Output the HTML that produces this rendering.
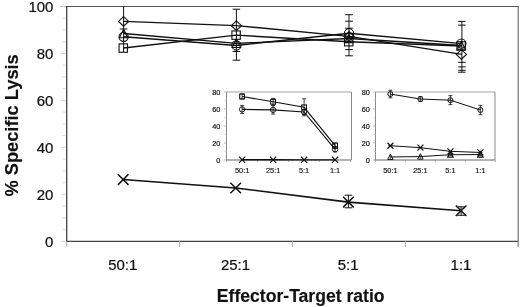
<!DOCTYPE html>
<html><head><meta charset="utf-8"><title>Effector-Target ratio chart</title>
<style>html,body{margin:0;padding:0;background:#fff}svg{display:block}</style></head>
<body>
<svg width="520" height="307" viewBox="0 0 520 307" font-family="'Liberation Sans', sans-serif">
<rect width="520" height="307" fill="#fff"/>
<line x1="60.70" y1="6.50" x2="518.70" y2="6.50" stroke="#555" stroke-width="1.0" />
<line x1="518.20" y1="6.50" x2="518.20" y2="246.80" stroke="#707070" stroke-width="1.2" />
<line x1="66.70" y1="6.20" x2="66.70" y2="241.80" stroke="#444" stroke-width="1.3" />
<line x1="66.20" y1="241.30" x2="518.20" y2="241.30" stroke="#444" stroke-width="1.3" />
<line x1="61.20" y1="241.30" x2="65.70" y2="241.30" stroke="#d4d4d4" stroke-width="1" />
<text transform="translate(53.40,246.70) scale(0.965,1)" font-size="15.5" text-anchor="end" font-weight="normal" fill="#111" stroke="#111" stroke-width="0.25" >0</text>
<line x1="61.20" y1="194.34" x2="65.70" y2="194.34" stroke="#d4d4d4" stroke-width="1" />
<text transform="translate(53.40,199.74) scale(0.965,1)" font-size="15.5" text-anchor="end" font-weight="normal" fill="#111" stroke="#111" stroke-width="0.25" >20</text>
<line x1="61.20" y1="147.38" x2="65.70" y2="147.38" stroke="#d4d4d4" stroke-width="1" />
<text transform="translate(53.40,152.78) scale(0.965,1)" font-size="15.5" text-anchor="end" font-weight="normal" fill="#111" stroke="#111" stroke-width="0.25" >40</text>
<line x1="61.20" y1="100.42" x2="65.70" y2="100.42" stroke="#d4d4d4" stroke-width="1" />
<text transform="translate(53.40,105.82) scale(0.965,1)" font-size="15.5" text-anchor="end" font-weight="normal" fill="#111" stroke="#111" stroke-width="0.25" >60</text>
<line x1="61.20" y1="53.46" x2="65.70" y2="53.46" stroke="#d4d4d4" stroke-width="1" />
<text transform="translate(53.40,58.86) scale(0.965,1)" font-size="15.5" text-anchor="end" font-weight="normal" fill="#111" stroke="#111" stroke-width="0.25" >80</text>
<line x1="61.20" y1="6.50" x2="65.70" y2="6.50" stroke="#d4d4d4" stroke-width="1" />
<text transform="translate(53.40,11.90) scale(0.965,1)" font-size="15.5" text-anchor="end" font-weight="normal" fill="#111" stroke="#111" stroke-width="0.25" >100</text>
<line x1="62.20" y1="229.56" x2="65.70" y2="229.56" stroke="#dedede" stroke-width="1" />
<line x1="62.20" y1="206.08" x2="65.70" y2="206.08" stroke="#dedede" stroke-width="1" />
<line x1="62.20" y1="182.60" x2="65.70" y2="182.60" stroke="#dedede" stroke-width="1" />
<line x1="62.20" y1="159.12" x2="65.70" y2="159.12" stroke="#dedede" stroke-width="1" />
<line x1="62.20" y1="135.64" x2="65.70" y2="135.64" stroke="#dedede" stroke-width="1" />
<line x1="62.20" y1="112.16" x2="65.70" y2="112.16" stroke="#dedede" stroke-width="1" />
<line x1="62.20" y1="88.68" x2="65.70" y2="88.68" stroke="#dedede" stroke-width="1" />
<line x1="62.20" y1="65.20" x2="65.70" y2="65.20" stroke="#dedede" stroke-width="1" />
<line x1="62.20" y1="41.72" x2="65.70" y2="41.72" stroke="#dedede" stroke-width="1" />
<line x1="62.20" y1="18.24" x2="65.70" y2="18.24" stroke="#dedede" stroke-width="1" />
<line x1="62.20" y1="217.82" x2="65.70" y2="217.82" stroke="#dedede" stroke-width="1" />
<line x1="62.20" y1="170.86" x2="65.70" y2="170.86" stroke="#dedede" stroke-width="1" />
<line x1="62.20" y1="123.90" x2="65.70" y2="123.90" stroke="#dedede" stroke-width="1" />
<line x1="62.20" y1="76.94" x2="65.70" y2="76.94" stroke="#dedede" stroke-width="1" />
<line x1="62.20" y1="29.98" x2="65.70" y2="29.98" stroke="#dedede" stroke-width="1" />
<line x1="66.70" y1="241.30" x2="66.70" y2="246.80" stroke="#aaa" stroke-width="1" />
<line x1="179.58" y1="241.30" x2="179.58" y2="246.80" stroke="#aaa" stroke-width="1" />
<line x1="292.45" y1="241.30" x2="292.45" y2="246.80" stroke="#aaa" stroke-width="1" />
<line x1="405.33" y1="241.30" x2="405.33" y2="246.80" stroke="#aaa" stroke-width="1" />
<line x1="518.20" y1="241.30" x2="518.20" y2="246.80" stroke="#aaa" stroke-width="1" />
<text transform="translate(122.70,269.50) scale(0.965,1)" font-size="15.5" text-anchor="middle" font-weight="normal" fill="#111" stroke="#111" stroke-width="0.25" >50:1</text>
<text transform="translate(235.50,269.50) scale(0.965,1)" font-size="15.5" text-anchor="middle" font-weight="normal" fill="#111" stroke="#111" stroke-width="0.25" >25:1</text>
<text transform="translate(348.10,269.50) scale(0.965,1)" font-size="15.5" text-anchor="middle" font-weight="normal" fill="#111" stroke="#111" stroke-width="0.25" >5:1</text>
<text transform="translate(461.00,269.50) scale(0.965,1)" font-size="15.5" text-anchor="middle" font-weight="normal" fill="#111" stroke="#111" stroke-width="0.25" >1:1</text>
<text transform="translate(300.70,302.20) scale(1.0,1)" font-size="17.6" text-anchor="middle" font-weight="bold" fill="#111" stroke="#111" stroke-width="0.15" >Effector-Target ratio</text>
<text transform="translate(18.3,125.4) rotate(-90)" font-size="18.25" stroke="#111" stroke-width="0.15" text-anchor="middle" font-weight="bold" fill="#111">% Specific Lysis</text>
<polyline fill="none" stroke="#111" stroke-width="1.4" points="123.60,21.41 236.40,25.64 349.00,36.32 461.90,54.40"/>
<polyline fill="none" stroke="#111" stroke-width="1.4" points="123.60,36.79 236.40,45.48 349.00,33.27 461.90,43.60"/>
<polyline fill="none" stroke="#111" stroke-width="1.4" points="123.60,48.06 236.40,35.15 349.00,41.72 461.90,45.95"/>
<polyline fill="none" stroke="#111" stroke-width="1.4" points="123.60,33.50 236.40,43.36 349.00,38.43 461.90,45.48"/>
<line x1="123.60" y1="6.50" x2="123.60" y2="52.00" stroke="#111" stroke-width="1" />
<line x1="119.80" y1="29.00" x2="127.40" y2="29.00" stroke="#111" stroke-width="1" />
<line x1="236.40" y1="9.20" x2="236.40" y2="51.50" stroke="#111" stroke-width="1.0" />
<line x1="232.60" y1="9.20" x2="240.20" y2="9.20" stroke="#111" stroke-width="1.0" />
<line x1="232.60" y1="51.50" x2="240.20" y2="51.50" stroke="#111" stroke-width="1.0" />
<line x1="236.40" y1="51.50" x2="236.40" y2="60.20" stroke="#111" stroke-width="1" />
<line x1="232.60" y1="60.20" x2="240.20" y2="60.20" stroke="#111" stroke-width="1" />
<line x1="349.00" y1="14.70" x2="349.00" y2="55.80" stroke="#111" stroke-width="1.0" />
<line x1="345.20" y1="14.70" x2="352.80" y2="14.70" stroke="#111" stroke-width="1.0" />
<line x1="345.20" y1="55.80" x2="352.80" y2="55.80" stroke="#111" stroke-width="1.0" />
<line x1="345.20" y1="21.20" x2="352.80" y2="21.20" stroke="#111" stroke-width="1" />
<line x1="345.20" y1="28.20" x2="352.80" y2="28.20" stroke="#111" stroke-width="1" />
<line x1="345.20" y1="49.60" x2="352.80" y2="49.60" stroke="#111" stroke-width="1" />
<line x1="461.90" y1="21.40" x2="461.90" y2="72.20" stroke="#111" stroke-width="1.0" />
<line x1="458.10" y1="21.40" x2="465.70" y2="21.40" stroke="#111" stroke-width="1.0" />
<line x1="458.10" y1="72.20" x2="465.70" y2="72.20" stroke="#111" stroke-width="1.0" />
<line x1="458.10" y1="25.10" x2="465.70" y2="25.10" stroke="#111" stroke-width="1" />
<line x1="458.10" y1="62.30" x2="465.70" y2="62.30" stroke="#111" stroke-width="1" />
<line x1="458.10" y1="66.90" x2="465.70" y2="66.90" stroke="#111" stroke-width="1" />
<line x1="458.10" y1="70.30" x2="465.70" y2="70.30" stroke="#111" stroke-width="1" />
<polygon points="123.60,16.61 128.70,21.41 123.60,26.21 118.50,21.41" fill="none" stroke="#111" stroke-width="1.1"/>
<circle cx="123.60" cy="36.79" r="4.6" fill="none" stroke="#111" stroke-width="1.1"/>
<rect x="119.10" y="43.86" width="8.4" height="8.4" fill="none" stroke="#111" stroke-width="1.1"/>
<polygon points="123.60,29.30 127.80,37.70 119.40,37.70" fill="none" stroke="#111" stroke-width="1.1"/>
<polygon points="236.40,20.84 241.50,25.64 236.40,30.44 231.30,25.64" fill="none" stroke="#111" stroke-width="1.1"/>
<circle cx="236.40" cy="45.48" r="4.6" fill="none" stroke="#111" stroke-width="1.1"/>
<rect x="231.90" y="30.95" width="8.4" height="8.4" fill="none" stroke="#111" stroke-width="1.1"/>
<polygon points="236.40,39.16 240.60,47.56 232.20,47.56" fill="none" stroke="#111" stroke-width="1.1"/>
<polygon points="349.00,31.52 354.10,36.32 349.00,41.12 343.90,36.32" fill="none" stroke="#111" stroke-width="1.1"/>
<circle cx="349.00" cy="33.27" r="4.6" fill="none" stroke="#111" stroke-width="1.1"/>
<rect x="344.50" y="37.52" width="8.4" height="8.4" fill="none" stroke="#111" stroke-width="1.1"/>
<polygon points="349.00,34.23 353.20,42.63 344.80,42.63" fill="none" stroke="#111" stroke-width="1.1"/>
<polygon points="461.40,49.60 466.50,54.40 461.40,59.20 456.30,54.40" fill="none" stroke="#111" stroke-width="1.1"/>
<circle cx="461.40" cy="43.60" r="4.6" fill="none" stroke="#111" stroke-width="1.1"/>
<rect x="456.90" y="41.75" width="8.4" height="8.4" fill="none" stroke="#111" stroke-width="1.1"/>
<polygon points="461.40,41.28 465.60,49.68 457.20,49.68" fill="none" stroke="#111" stroke-width="1.1"/>
<polyline fill="none" stroke="#111" stroke-width="1.6" points="123.20,179.55 235.70,188.00 348.40,202.09 461.10,210.78"/>
<line x1="117.90" y1="174.25" x2="128.50" y2="184.85" stroke="#111" stroke-width="1.5" />
<line x1="117.90" y1="184.85" x2="128.50" y2="174.25" stroke="#111" stroke-width="1.5" />
<line x1="230.40" y1="182.70" x2="241.00" y2="193.30" stroke="#111" stroke-width="1.5" />
<line x1="230.40" y1="193.30" x2="241.00" y2="182.70" stroke="#111" stroke-width="1.5" />
<line x1="343.10" y1="196.79" x2="353.70" y2="207.39" stroke="#111" stroke-width="1.5" />
<line x1="343.10" y1="207.39" x2="353.70" y2="196.79" stroke="#111" stroke-width="1.5" />
<line x1="455.80" y1="205.48" x2="466.40" y2="216.08" stroke="#111" stroke-width="1.5" />
<line x1="455.80" y1="216.08" x2="466.40" y2="205.48" stroke="#111" stroke-width="1.5" />
<line x1="348.40" y1="195.20" x2="348.40" y2="207.80" stroke="#111" stroke-width="1.0" />
<line x1="344.60" y1="195.20" x2="352.20" y2="195.20" stroke="#111" stroke-width="1.0" />
<line x1="344.60" y1="207.80" x2="352.20" y2="207.80" stroke="#111" stroke-width="1.0" />
<line x1="461.10" y1="206.80" x2="461.10" y2="215.30" stroke="#111" stroke-width="1.0" />
<line x1="457.30" y1="206.80" x2="464.90" y2="206.80" stroke="#111" stroke-width="1.0" />
<line x1="457.30" y1="215.30" x2="464.90" y2="215.30" stroke="#111" stroke-width="1.0" />
<polyline fill="none" stroke="#a4a4a4" stroke-width="1" points="226.5,92.0 351.5,92.0"/>
<polyline fill="none" stroke="#8a8a8a" stroke-width="1" points="351.5,92.0 351.5,160.0"/>
<line x1="226.50" y1="92.00" x2="226.50" y2="160.50" stroke="#8a8a8a" stroke-width="1.0" />
<line x1="226.00" y1="160.00" x2="351.50" y2="160.00" stroke="#666" stroke-width="1.0" />
<line x1="224.00" y1="160.00" x2="226.50" y2="160.00" stroke="#aaa" stroke-width="0.8" />
<text transform="translate(220.40,162.50) scale(0.9,1)" font-size="8.1" text-anchor="end" font-weight="normal" fill="#111" stroke="#111" stroke-width="0.2" >0</text>
<line x1="224.00" y1="143.00" x2="226.50" y2="143.00" stroke="#aaa" stroke-width="0.8" />
<text transform="translate(220.40,145.50) scale(0.9,1)" font-size="8.1" text-anchor="end" font-weight="normal" fill="#111" stroke="#111" stroke-width="0.2" >20</text>
<line x1="224.00" y1="126.00" x2="226.50" y2="126.00" stroke="#aaa" stroke-width="0.8" />
<text transform="translate(220.40,128.50) scale(0.9,1)" font-size="8.1" text-anchor="end" font-weight="normal" fill="#111" stroke="#111" stroke-width="0.2" >40</text>
<line x1="224.00" y1="109.00" x2="226.50" y2="109.00" stroke="#aaa" stroke-width="0.8" />
<text transform="translate(220.40,111.50) scale(0.9,1)" font-size="8.1" text-anchor="end" font-weight="normal" fill="#111" stroke="#111" stroke-width="0.2" >60</text>
<line x1="224.00" y1="92.00" x2="226.50" y2="92.00" stroke="#aaa" stroke-width="0.8" />
<text transform="translate(220.40,94.50) scale(0.9,1)" font-size="8.1" text-anchor="end" font-weight="normal" fill="#111" stroke="#111" stroke-width="0.2" >80</text>
<line x1="224.50" y1="151.50" x2="226.50" y2="151.50" stroke="#ccc" stroke-width="0.8" />
<line x1="224.50" y1="134.50" x2="226.50" y2="134.50" stroke="#ccc" stroke-width="0.8" />
<line x1="224.50" y1="117.50" x2="226.50" y2="117.50" stroke="#ccc" stroke-width="0.8" />
<line x1="224.50" y1="100.50" x2="226.50" y2="100.50" stroke="#ccc" stroke-width="0.8" />
<line x1="226.60" y1="160.00" x2="226.60" y2="162.00" stroke="#999" stroke-width="0.8" />
<line x1="257.60" y1="160.00" x2="257.60" y2="162.00" stroke="#999" stroke-width="0.8" />
<line x1="288.60" y1="160.00" x2="288.60" y2="162.00" stroke="#999" stroke-width="0.8" />
<line x1="319.60" y1="160.00" x2="319.60" y2="162.00" stroke="#999" stroke-width="0.8" />
<line x1="350.60" y1="160.00" x2="350.60" y2="162.00" stroke="#999" stroke-width="0.8" />
<text transform="translate(242.10,173.10) scale(1.0,1)" font-size="7.4" text-anchor="middle" font-weight="normal" fill="#111" stroke="#111" stroke-width="0.15" >50:1</text>
<text transform="translate(273.10,173.10) scale(1.0,1)" font-size="7.4" text-anchor="middle" font-weight="normal" fill="#111" stroke="#111" stroke-width="0.15" >25:1</text>
<text transform="translate(304.10,173.10) scale(1.0,1)" font-size="7.4" text-anchor="middle" font-weight="normal" fill="#111" stroke="#111" stroke-width="0.15" >5:1</text>
<text transform="translate(335.10,173.10) scale(1.0,1)" font-size="7.4" text-anchor="middle" font-weight="normal" fill="#111" stroke="#111" stroke-width="0.15" >1:1</text>
<polyline fill="none" stroke="#111" stroke-width="1.15" points="242.10,96.50 273.10,101.78 304.10,107.30 335.10,145.55"/>
<polyline fill="none" stroke="#111" stroke-width="1.15" points="242.10,109.42 273.10,109.85 304.10,111.97 335.10,149.38"/>
<polyline fill="none" stroke="#111" stroke-width="1.3" points="242.10,159.75 273.10,159.75 304.10,159.83 335.10,159.83"/>
<line x1="242.10" y1="93.95" x2="242.10" y2="99.06" stroke="#111" stroke-width="0.8" />
<line x1="240.10" y1="93.95" x2="244.10" y2="93.95" stroke="#111" stroke-width="0.8" />
<line x1="240.10" y1="99.06" x2="244.10" y2="99.06" stroke="#111" stroke-width="0.8" />
<line x1="242.10" y1="105.43" x2="242.10" y2="113.42" stroke="#111" stroke-width="0.8" />
<line x1="240.10" y1="105.43" x2="244.10" y2="105.43" stroke="#111" stroke-width="0.8" />
<line x1="240.10" y1="113.42" x2="244.10" y2="113.42" stroke="#111" stroke-width="0.8" />
<rect x="239.70" y="94.10" width="4.8" height="4.8" fill="none" stroke="#111" stroke-width="1.05"/>
<circle cx="242.10" cy="109.42" r="2.65" fill="none" stroke="#111" stroke-width="1.0"/>
<line x1="239.00" y1="156.65" x2="245.20" y2="162.84" stroke="#111" stroke-width="1.2" />
<line x1="239.00" y1="162.84" x2="245.20" y2="156.65" stroke="#111" stroke-width="1.2" />
<line x1="273.10" y1="98.38" x2="273.10" y2="105.17" stroke="#111" stroke-width="0.8" />
<line x1="271.10" y1="98.38" x2="275.10" y2="98.38" stroke="#111" stroke-width="0.8" />
<line x1="271.10" y1="105.17" x2="275.10" y2="105.17" stroke="#111" stroke-width="0.8" />
<line x1="273.10" y1="105.60" x2="273.10" y2="114.10" stroke="#111" stroke-width="0.8" />
<line x1="271.10" y1="105.60" x2="275.10" y2="105.60" stroke="#111" stroke-width="0.8" />
<line x1="271.10" y1="114.10" x2="275.10" y2="114.10" stroke="#111" stroke-width="0.8" />
<rect x="270.70" y="99.38" width="4.8" height="4.8" fill="none" stroke="#111" stroke-width="1.05"/>
<circle cx="273.10" cy="109.85" r="2.65" fill="none" stroke="#111" stroke-width="1.0"/>
<line x1="270.00" y1="156.65" x2="276.20" y2="162.84" stroke="#111" stroke-width="1.2" />
<line x1="270.00" y1="162.84" x2="276.20" y2="156.65" stroke="#111" stroke-width="1.2" />
<line x1="304.10" y1="98.80" x2="304.10" y2="115.80" stroke="#111" stroke-width="0.8" />
<line x1="302.10" y1="98.80" x2="306.10" y2="98.80" stroke="#111" stroke-width="0.8" />
<line x1="302.10" y1="115.80" x2="306.10" y2="115.80" stroke="#111" stroke-width="0.8" />
<line x1="304.10" y1="109.42" x2="304.10" y2="114.53" stroke="#111" stroke-width="0.8" />
<line x1="302.10" y1="109.42" x2="306.10" y2="109.42" stroke="#111" stroke-width="0.8" />
<line x1="302.10" y1="114.53" x2="306.10" y2="114.53" stroke="#111" stroke-width="0.8" />
<rect x="301.70" y="104.90" width="4.8" height="4.8" fill="none" stroke="#111" stroke-width="1.05"/>
<circle cx="304.10" cy="111.97" r="2.65" fill="none" stroke="#111" stroke-width="1.0"/>
<line x1="301.00" y1="156.73" x2="307.20" y2="162.93" stroke="#111" stroke-width="1.2" />
<line x1="301.00" y1="162.93" x2="307.20" y2="156.73" stroke="#111" stroke-width="1.2" />
<line x1="335.10" y1="143.00" x2="335.10" y2="148.10" stroke="#111" stroke-width="0.8" />
<line x1="333.10" y1="143.00" x2="337.10" y2="143.00" stroke="#111" stroke-width="0.8" />
<line x1="333.10" y1="148.10" x2="337.10" y2="148.10" stroke="#111" stroke-width="0.8" />
<line x1="335.10" y1="146.82" x2="335.10" y2="151.93" stroke="#111" stroke-width="0.8" />
<line x1="333.10" y1="146.82" x2="337.10" y2="146.82" stroke="#111" stroke-width="0.8" />
<line x1="333.10" y1="151.93" x2="337.10" y2="151.93" stroke="#111" stroke-width="0.8" />
<rect x="332.70" y="143.15" width="4.8" height="4.8" fill="none" stroke="#111" stroke-width="1.05"/>
<circle cx="335.10" cy="149.38" r="2.65" fill="none" stroke="#111" stroke-width="1.0"/>
<line x1="332.00" y1="156.73" x2="338.20" y2="162.93" stroke="#111" stroke-width="1.2" />
<line x1="332.00" y1="162.93" x2="338.20" y2="156.73" stroke="#111" stroke-width="1.2" />
<polyline fill="none" stroke="#a4a4a4" stroke-width="1" points="375.5,92.0 495.0,92.0"/>
<polyline fill="none" stroke="#8a8a8a" stroke-width="1" points="495.0,92.0 495.0,160.0"/>
<line x1="375.50" y1="92.00" x2="375.50" y2="160.50" stroke="#8a8a8a" stroke-width="1.0" />
<line x1="375.00" y1="160.00" x2="495.00" y2="160.00" stroke="#666" stroke-width="1.0" />
<line x1="373.00" y1="160.00" x2="375.50" y2="160.00" stroke="#aaa" stroke-width="0.8" />
<text transform="translate(369.80,162.50) scale(0.9,1)" font-size="8.1" text-anchor="end" font-weight="normal" fill="#111" stroke="#111" stroke-width="0.2" >0</text>
<line x1="373.00" y1="143.00" x2="375.50" y2="143.00" stroke="#aaa" stroke-width="0.8" />
<text transform="translate(369.80,145.50) scale(0.9,1)" font-size="8.1" text-anchor="end" font-weight="normal" fill="#111" stroke="#111" stroke-width="0.2" >20</text>
<line x1="373.00" y1="126.00" x2="375.50" y2="126.00" stroke="#aaa" stroke-width="0.8" />
<text transform="translate(369.80,128.50) scale(0.9,1)" font-size="8.1" text-anchor="end" font-weight="normal" fill="#111" stroke="#111" stroke-width="0.2" >40</text>
<line x1="373.00" y1="109.00" x2="375.50" y2="109.00" stroke="#aaa" stroke-width="0.8" />
<text transform="translate(369.80,111.50) scale(0.9,1)" font-size="8.1" text-anchor="end" font-weight="normal" fill="#111" stroke="#111" stroke-width="0.2" >60</text>
<line x1="373.00" y1="92.00" x2="375.50" y2="92.00" stroke="#aaa" stroke-width="0.8" />
<text transform="translate(369.80,94.50) scale(0.9,1)" font-size="8.1" text-anchor="end" font-weight="normal" fill="#111" stroke="#111" stroke-width="0.2" >80</text>
<line x1="373.50" y1="151.50" x2="375.50" y2="151.50" stroke="#ccc" stroke-width="0.8" />
<line x1="373.50" y1="134.50" x2="375.50" y2="134.50" stroke="#ccc" stroke-width="0.8" />
<line x1="373.50" y1="117.50" x2="375.50" y2="117.50" stroke="#ccc" stroke-width="0.8" />
<line x1="373.50" y1="100.50" x2="375.50" y2="100.50" stroke="#ccc" stroke-width="0.8" />
<line x1="375.40" y1="160.00" x2="375.40" y2="162.00" stroke="#999" stroke-width="0.8" />
<line x1="405.40" y1="160.00" x2="405.40" y2="162.00" stroke="#999" stroke-width="0.8" />
<line x1="435.40" y1="160.00" x2="435.40" y2="162.00" stroke="#999" stroke-width="0.8" />
<line x1="465.40" y1="160.00" x2="465.40" y2="162.00" stroke="#999" stroke-width="0.8" />
<line x1="495.40" y1="160.00" x2="495.40" y2="162.00" stroke="#999" stroke-width="0.8" />
<text transform="translate(390.40,173.10) scale(1.0,1)" font-size="7.4" text-anchor="middle" font-weight="normal" fill="#111" stroke="#111" stroke-width="0.15" >50:1</text>
<text transform="translate(420.40,173.10) scale(1.0,1)" font-size="7.4" text-anchor="middle" font-weight="normal" fill="#111" stroke="#111" stroke-width="0.15" >25:1</text>
<text transform="translate(450.40,173.10) scale(1.0,1)" font-size="7.4" text-anchor="middle" font-weight="normal" fill="#111" stroke="#111" stroke-width="0.15" >5:1</text>
<text transform="translate(480.40,173.10) scale(1.0,1)" font-size="7.4" text-anchor="middle" font-weight="normal" fill="#111" stroke="#111" stroke-width="0.15" >1:1</text>
<polyline fill="none" stroke="#111" stroke-width="1.0" points="390.40,94.04 420.40,99.06 450.40,100.16 480.40,110.02"/>
<polyline fill="none" stroke="#111" stroke-width="1.0" points="390.40,145.72 420.40,147.68 450.40,151.33 480.40,152.44"/>
<polyline fill="none" stroke="#111" stroke-width="1.0" points="390.40,156.94 420.40,156.60 450.40,154.73 480.40,154.56"/>
<line x1="390.40" y1="90.22" x2="390.40" y2="97.87" stroke="#111" stroke-width="0.8" />
<line x1="388.40" y1="90.22" x2="392.40" y2="90.22" stroke="#111" stroke-width="0.8" />
<line x1="388.40" y1="97.87" x2="392.40" y2="97.87" stroke="#111" stroke-width="0.8" />
<circle cx="390.40" cy="94.04" r="2.5" fill="none" stroke="#111" stroke-width="1.0"/>
<line x1="387.40" y1="142.72" x2="393.40" y2="148.72" stroke="#111" stroke-width="1.2" />
<line x1="387.40" y1="148.72" x2="393.40" y2="142.72" stroke="#111" stroke-width="1.2" />
<line x1="388.40" y1="145.72" x2="392.40" y2="145.72" stroke="#111" stroke-width="0.9" />
<polygon points="390.40,154.04 393.10,159.44 387.70,159.44" fill="none" stroke="#111" stroke-width="1.0"/>
<line x1="390.40" y1="155.44" x2="390.40" y2="158.94" stroke="#111" stroke-width="0.7" />
<line x1="420.40" y1="96.59" x2="420.40" y2="101.52" stroke="#111" stroke-width="0.8" />
<line x1="418.40" y1="96.59" x2="422.40" y2="96.59" stroke="#111" stroke-width="0.8" />
<line x1="418.40" y1="101.52" x2="422.40" y2="101.52" stroke="#111" stroke-width="0.8" />
<circle cx="420.40" cy="99.06" r="2.5" fill="none" stroke="#111" stroke-width="1.0"/>
<line x1="417.40" y1="144.68" x2="423.40" y2="150.68" stroke="#111" stroke-width="1.2" />
<line x1="417.40" y1="150.68" x2="423.40" y2="144.68" stroke="#111" stroke-width="1.2" />
<line x1="418.40" y1="147.68" x2="422.40" y2="147.68" stroke="#111" stroke-width="0.9" />
<polygon points="420.40,153.70 423.10,159.10 417.70,159.10" fill="none" stroke="#111" stroke-width="1.0"/>
<line x1="420.40" y1="155.10" x2="420.40" y2="158.60" stroke="#111" stroke-width="0.7" />
<line x1="450.40" y1="95.66" x2="450.40" y2="104.66" stroke="#111" stroke-width="0.8" />
<line x1="448.40" y1="95.66" x2="452.40" y2="95.66" stroke="#111" stroke-width="0.8" />
<line x1="448.40" y1="104.66" x2="452.40" y2="104.66" stroke="#111" stroke-width="0.8" />
<circle cx="450.40" cy="100.16" r="2.5" fill="none" stroke="#111" stroke-width="1.0"/>
<line x1="447.40" y1="148.33" x2="453.40" y2="154.33" stroke="#111" stroke-width="1.2" />
<line x1="447.40" y1="154.33" x2="453.40" y2="148.33" stroke="#111" stroke-width="1.2" />
<line x1="448.40" y1="151.33" x2="452.40" y2="151.33" stroke="#111" stroke-width="0.9" />
<polygon points="450.40,151.83 453.10,157.23 447.70,157.23" fill="none" stroke="#111" stroke-width="1.2"/>
<line x1="450.40" y1="153.93" x2="450.40" y2="155.93" stroke="#111" stroke-width="0.8" />
<line x1="448.80" y1="153.93" x2="452.00" y2="153.93" stroke="#111" stroke-width="0.8" />
<line x1="448.80" y1="155.93" x2="452.00" y2="155.93" stroke="#111" stroke-width="0.8" />
<line x1="480.40" y1="105.34" x2="480.40" y2="114.69" stroke="#111" stroke-width="0.8" />
<line x1="478.40" y1="105.34" x2="482.40" y2="105.34" stroke="#111" stroke-width="0.8" />
<line x1="478.40" y1="114.69" x2="482.40" y2="114.69" stroke="#111" stroke-width="0.8" />
<circle cx="480.40" cy="110.02" r="2.5" fill="none" stroke="#111" stroke-width="1.0"/>
<line x1="477.40" y1="149.44" x2="483.40" y2="155.44" stroke="#111" stroke-width="1.2" />
<line x1="477.40" y1="155.44" x2="483.40" y2="149.44" stroke="#111" stroke-width="1.2" />
<line x1="478.40" y1="152.44" x2="482.40" y2="152.44" stroke="#111" stroke-width="0.9" />
<polygon points="480.40,151.66 483.10,157.06 477.70,157.06" fill="none" stroke="#111" stroke-width="1.2"/>
<line x1="480.40" y1="153.76" x2="480.40" y2="155.76" stroke="#111" stroke-width="0.8" />
<line x1="478.80" y1="153.76" x2="482.00" y2="153.76" stroke="#111" stroke-width="0.8" />
<line x1="478.80" y1="155.76" x2="482.00" y2="155.76" stroke="#111" stroke-width="0.8" />
</svg>
</body></html>
